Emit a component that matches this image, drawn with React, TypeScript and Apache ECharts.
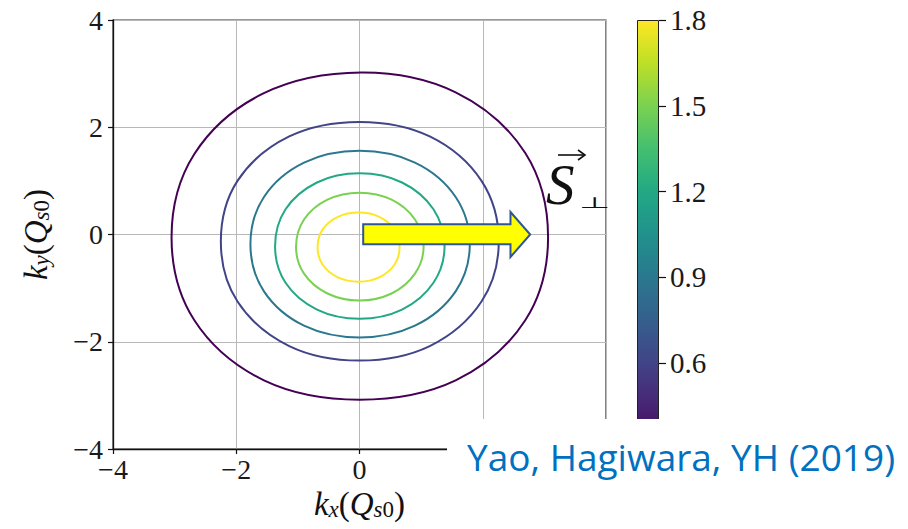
import React, { useEffect, useRef } from 'react';
import * as echarts from 'echarts';

// ---- data ----
const xTicks = [-4, -2, 0, 2, 4];
const yTicks = [-4, -2, 0, 2, 4];
const levels = [0.3, 0.6, 0.9, 1.2, 1.5, 1.8];
const colorbarTicks = [0.3, 0.6, 0.9, 1.2, 1.5, 1.8];

// contour lines [kx, ky], outer (0.3) to inner (1.8)
const contour03 = [[3.06, -0.05], [2.69, 1.52], [1.56, 2.65], [0.03, 3.02], [-1.56, 2.63], [-2.68, 1.5], [-3.05, -0.05], [-2.68, -1.6], [-1.55, -2.72], [0, -3.08], [1.56, -2.72], [2.69, -1.6]];
const contour06 = [[2.26, -0.13], [1.98, 1.0], [1.14, 1.83], [0, 2.1], [-1.14, 1.83], [-1.98, 1.0], [-2.25, -0.13], [-1.98, -1.25], [-1.14, -2.08], [0, -2.35], [1.14, -2.08], [1.98, -1.25]];
const contour09 = [[1.79, -0.18], [1.56, 0.7], [0.9, 1.34], [0, 1.56], [-0.9, 1.34], [-1.55, 0.7], [-1.77, -0.18], [-1.55, -1.06], [-0.9, -1.7], [0, -1.92], [0.9, -1.7], [1.56, -1.06]];
const contour12 = [[1.38, -0.22], [1.2, 0.47], [0.69, 0.97], [0, 1.14], [-0.69, 0.97], [-1.2, 0.47], [-1.37, -0.22], [-1.2, -0.9], [-0.69, -1.4], [0, -1.57], [0.69, -1.4], [1.2, -0.9]];
const contour15 = [[1.04, -0.23], [0.9, 0.28], [0.52, 0.65], [0, 0.78], [-0.52, 0.65], [-0.9, 0.28], [-1.03, -0.23], [-0.9, -0.73], [-0.52, -1.1], [0, -1.23], [0.52, -1.1], [0.9, -0.73]];
const contour18 = [[0.65, -0.24], [0.57, 0.09], [0.32, 0.33], [-0.01, 0.41], [-0.35, 0.33], [-0.6, 0.09], [-0.68, -0.24], [-0.6, -0.56], [-0.35, -0.8], [-0.01, -0.88], [0.32, -0.8], [0.57, -0.56]];
const contours = [contour03, contour06, contour09, contour12, contour15, contour18];

// S_perp arrow annotation (data coords)
const arrowShape = [[0.06, 0.19], [2.45, 0.19], [2.45, 0.42], [2.77, 0], [2.45, -0.42], [2.45, -0.18], [0.06, -0.18]];

const viridis = ['#440154', '#482475', '#414487', '#355f8d', '#2a788e', '#21918c', '#22a884', '#44bf70', '#7ad151', '#bddf26', '#fde725'];
const CB_MIN = colorbarTicks[0];
const CB_MAX = colorbarTicks[colorbarTicks.length - 1];
const levelColor = (v: number) => viridis[Math.round(((v - CB_MIN) / (CB_MAX - CB_MIN)) * 10)];

const SERIF = "'Liberation Serif', 'Times New Roman', serif";
const INK = '#111';
const fmt = (v: number) => (v < 0 ? '\u2212' + Math.abs(v) : String(v));

const tickRich: any = { t: { fontFamily: SERIF, fontSize: 28, color: '#1a1a1a' } };
const cbRich: any = { t: { fontFamily: SERIF, fontSize: 29, color: '#1a1a1a' } };

const nameRich: any = {
  i: { fontFamily: SERIF, fontStyle: 'italic', fontSize: 33, lineHeight: 34, color: INK },
  n: { fontFamily: SERIF, fontSize: 33, lineHeight: 34, color: INK },
  si: { fontFamily: SERIF, fontStyle: 'italic', fontSize: 23, lineHeight: 12, verticalAlign: 'bottom', color: INK },
  sn: { fontFamily: SERIF, fontSize: 23, lineHeight: 12, verticalAlign: 'bottom', color: INK },
};

export default function App() {
  const ref = useRef<HTMLDivElement>(null);
  useEffect(() => {
    const chart = echarts.init(ref.current!, undefined, { renderer: 'svg' });
    const option: any = {
      animation: false,
      backgroundColor: '#fff',
      textStyle: { fontFamily: SERIF },
      grid: [
        { left: 113, top: 20, width: 493, height: 429, show: true, borderColor: '#333', borderWidth: 1.2, backgroundColor: 'transparent', containLabel: false, outerBoundsMode: 'none' },
        { left: 637, top: 20, width: 22, height: 429, containLabel: false, outerBoundsMode: 'none' },
      ],
      xAxis: [
        {
          type: 'value', gridIndex: 0, min: xTicks[0], max: xTicks[xTicks.length - 1], interval: 2,
          axisLine: { show: true, onZero: false, lineStyle: { color: INK, width: 1.3 } },
          axisTick: { show: true, length: 5, lineStyle: { color: INK, width: 1.2 } },
          // labels at 2 and 4 are hidden behind the citation box in the reference
          axisLabel: { formatter: (v: number) => (v > 1 ? '' : `{t|${fmt(v)}}`), rich: tickRich, margin: 6 },
          splitLine: { show: true, lineStyle: { color: '#b8b8b8', width: 1 } },
          name: '{i|k}{si|x}{n|(}{i|Q}{si|s}{sn|0}{n|)}',
          nameLocation: 'middle', nameGap: 34,
          nameTextStyle: { rich: nameRich },
        },
        { type: 'category', gridIndex: 1, data: ['cb'], show: false, boundaryGap: true },
      ],
      yAxis: [
        {
          type: 'value', gridIndex: 0, min: yTicks[0], max: yTicks[yTicks.length - 1], interval: 2,
          axisLine: { show: true, onZero: false, lineStyle: { color: INK, width: 1.3 } },
          axisTick: { show: true, length: 5, lineStyle: { color: INK, width: 1.2 } },
          axisLabel: { formatter: (v: number) => `{t|${fmt(v)}}`, rich: tickRich, margin: 10 },
          splitLine: { show: true, lineStyle: { color: '#b8b8b8', width: 1 } },
          name: '{i|k}{si|y}{n|(}{i|Q}{si|s}{sn|0}{n|)}',
          nameLocation: 'middle', nameGap: 60, nameRotate: 90,
          nameTextStyle: { rich: nameRich },
        },
        {
          type: 'value', gridIndex: 1, position: 'right', min: CB_MIN, max: CB_MAX, interval: 0.3,
          axisLine: { show: false },
          axisTick: { show: true, length: 7, lineStyle: { color: INK, width: 1.2 } },
          axisLabel: { formatter: (v: number) => (v < 0.45 ? '' : `{t|${v.toFixed(1)}}`), rich: cbRich, margin: 11 },
          splitLine: { show: false },
        },
      ],
      series: [
        {
          type: 'custom', coordinateSystem: 'cartesian2d', xAxisIndex: 0, yAxisIndex: 0, silent: true, z: 3,
          data: levels.map((lv, i) => [0, 0, lv, i]),
          renderItem: (params: any, api: any) => {
            const i = params.dataIndex;
            const pts = contours[i].map((p) => api.coord(p));
            return {
              type: 'polygon',
              shape: { points: pts, smooth: 0.36 },
              style: { fill: 'none', stroke: levelColor(levels[i]), lineWidth: 2 },
            };
          },
        },
        {
          type: 'custom', coordinateSystem: 'cartesian2d', xAxisIndex: 0, yAxisIndex: 0, silent: true, z: 5,
          data: [[0, 0]],
          renderItem: (params: any, api: any) => ({
            type: 'polygon',
            shape: { points: arrowShape.map((p) => api.coord(p)) },
            style: { fill: '#ffff00', stroke: '#2f5597', lineWidth: 2, lineJoin: 'miter' },
          }),
        },
        {
          type: 'bar', xAxisIndex: 1, yAxisIndex: 1, stack: 'cb', barWidth: '100%', silent: true,
          data: [CB_MIN], itemStyle: { color: 'transparent' },
        },
        {
          type: 'bar', xAxisIndex: 1, yAxisIndex: 1, stack: 'cb', barWidth: '100%', silent: true,
          data: [CB_MAX - CB_MIN],
          itemStyle: {
            color: new echarts.graphic.LinearGradient(0, 0, 0, 1,
              viridis.map((c, k) => ({ offset: 1 - k / 10, color: c })).reverse()),
            borderColor: '#222', borderWidth: 1,
          },
        },
      ],
      graphic: [
        { type: 'rect', z: 100, shape: { x: 447, y: 419, width: 461, height: 110 }, style: { fill: '#fff' } },
        {
          type: 'text', z: 101, x: 467, y: 456,
          style: { text: 'Yao, Hagiwara, YH (2019)', fill: '#0070c0', fontFamily: 'Open Sans', fontSize: 37, verticalAlign: 'middle', align: 'left' },
        },
        {
          type: 'text', z: 101, x: 546, y: 184,
          style: { text: 'S', fill: INK, fontFamily: SERIF, fontStyle: 'italic', fontSize: 57, verticalAlign: 'middle', align: 'left' },
        },
        { type: 'line', z: 101, shape: { x1: 558, y1: 155, x2: 584, y2: 155 }, style: { stroke: INK, lineWidth: 1.6 } },
        { type: 'polyline', z: 101, shape: { points: [[578, 150], [585, 155], [578, 160]] }, style: { stroke: INK, lineWidth: 1.6, fill: 'none' } },
        {
          type: 'text', z: 101, x: 579, y: 203, scaleX: 2.0, scaleY: 0.85,
          style: { text: '\u22A5', fill: INK, fontFamily: 'DejaVu Sans', fontSize: 18, verticalAlign: 'middle', align: 'left' },
        },
      ],
    };
    chart.setOption(option);
    return () => chart.dispose();
  }, []);
  return <div ref={ref} style={{ position: 'absolute', left: 0, top: 0, width: 908, height: 529, background: '#fff' }} />;
}
